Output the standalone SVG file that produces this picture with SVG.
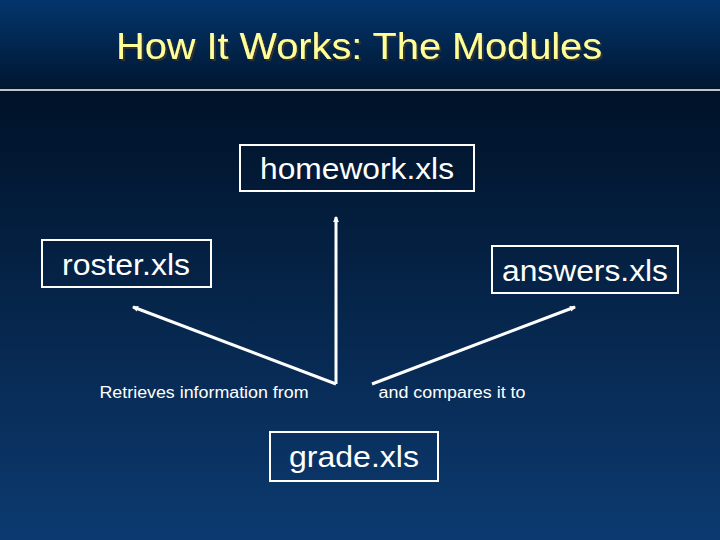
<svg xmlns="http://www.w3.org/2000/svg" width="720" height="540" viewBox="0 0 720 540">
<defs>
<linearGradient id="top" x1="0" y1="0" x2="0" y2="1"><stop offset="0" stop-color="#03356c"/><stop offset="1" stop-color="#001630"/></linearGradient>
<linearGradient id="bot" x1="0" y1="0" x2="0" y2="1"><stop offset="0" stop-color="#001228"/><stop offset="1" stop-color="#0c3a70"/></linearGradient>
<filter id="sh" x="-5%" y="-20%" width="110%" height="140%"><feDropShadow dx="2" dy="2" stdDeviation="0.3" flood-color="#333"/></filter>
<marker id="ah" markerWidth="6" markerHeight="6" refX="5" refY="3" orient="auto" markerUnits="userSpaceOnUse"><path d="M0,0 L6,3 L0,6 z" fill="#fff"/></marker>
<style>
.box{fill:none;stroke:#fff;stroke-width:2}
.lbl{font-family:"Liberation Sans",Arial,sans-serif;fill:#fff;font-size:30px;text-anchor:middle}
.sm{font-family:"Liberation Sans",Arial,sans-serif;fill:#fff;font-size:16px;text-anchor:middle}
.ln{stroke:#fff;stroke-width:3;fill:none}
</style>
</defs>
<rect width="720" height="90" fill="url(#top)"/>
<rect y="90" width="720" height="450" fill="url(#bot)"/>
<line x1="0" y1="90" x2="720" y2="90" stroke="#fff" stroke-width="1.5"/>
<text x="359" y="59" font-family="'Liberation Sans',Arial,sans-serif" font-size="37" fill="#ffff99" text-anchor="middle" textLength="486" lengthAdjust="spacingAndGlyphs" filter="url(#sh)">How It Works: The Modules</text>
<g id="connectors">
<line class="ln" x1="336" y1="384" x2="336" y2="217" stroke-width="2.5" marker-end="url(#ah)"/>
<line class="ln" x1="336" y1="384" x2="133" y2="307" marker-end="url(#ah)"/>
<line class="ln" x1="372" y1="384" x2="575" y2="307" marker-end="url(#ah)"/>
</g>
<g id="homework"><rect class="box" x="240" y="145" width="234" height="46"/><text class="lbl" x="357" y="179" textLength="194" lengthAdjust="spacingAndGlyphs">homework.xls</text></g>
<g id="roster"><rect class="box" x="42" y="240" width="169" height="47"/><text class="lbl" x="126" y="275" textLength="128" lengthAdjust="spacingAndGlyphs">roster.xls</text></g>
<g id="answers"><rect class="box" x="492" y="246" width="186" height="47"/><text class="lbl" x="585" y="281" textLength="166" lengthAdjust="spacingAndGlyphs">answers.xls</text></g>
<g id="grade"><rect class="box" x="270" y="432" width="168" height="49"/><text class="lbl" x="354" y="467" textLength="130" lengthAdjust="spacingAndGlyphs">grade.xls</text></g>
<text class="sm" x="204" y="398" textLength="209" lengthAdjust="spacingAndGlyphs">Retrieves information from</text>
<text class="sm" x="452" y="398" textLength="147" lengthAdjust="spacingAndGlyphs">and compares it to</text>
</svg>
